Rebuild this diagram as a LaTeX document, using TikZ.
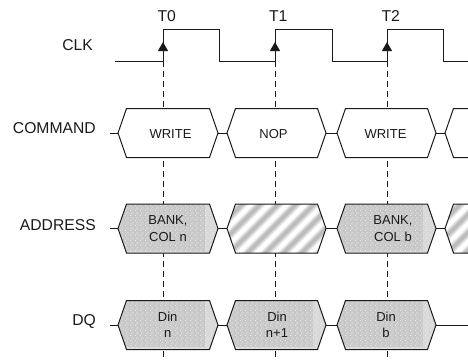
\documentclass[tikz,border=0pt]{standalone}
\usepackage{fontspec}
\setmainfont{Liberation Sans}
\usetikzlibrary{arrows.meta,patterns}
\definecolor{ink}{HTML}{1A1A1A}
\definecolor{stipbase}{HTML}{C6C6C6}
\definecolor{stipband}{HTML}{D8D8D8}
\definecolor{hatchA}{HTML}{EAEAEA}
\definecolor{hatchB}{HTML}{D2D2D2}
\definecolor{hatchC}{HTML}{BCBCBC}
\pgfdeclarepatternformonly{stipA}{\pgfpointorigin}{\pgfqpoint{5pt}{5pt}}{\pgfqpoint{5pt}{5pt}}{%
  \pgfpathrectangle{\pgfqpoint{0pt}{0pt}}{\pgfqpoint{1pt}{1pt}}%
  \pgfpathrectangle{\pgfqpoint{3pt}{1pt}}{\pgfqpoint{1pt}{1pt}}%
  \pgfpathrectangle{\pgfqpoint{1pt}{2pt}}{\pgfqpoint{1pt}{1pt}}%
  \pgfpathrectangle{\pgfqpoint{4pt}{3pt}}{\pgfqpoint{1pt}{1pt}}%
  \pgfpathrectangle{\pgfqpoint{2pt}{4pt}}{\pgfqpoint{1pt}{1pt}}%
  \pgfusepath{fill}}
\tikzset{
  wire/.style={draw=ink,line width=1pt},
  guide/.style={draw=ink,line width=1pt,dash pattern=on 5.5pt off 4.5pt},
  edgemark/.style={wire,-{Triangle[width=10pt,length=9pt]}},
  outline/.style={draw=ink,line width=1pt,line join=miter},
  signame/.style={font=\fontsize{15.7pt}{18pt}\selectfont,text=ink,inner sep=0pt},
  sigleft/.style={signame,anchor=east},
  celltext/.style={font=\fontsize{13pt}{16.5pt}\selectfont,text=ink,align=center,inner sep=0pt},
}
% name, left tip, right tip, mid y, kind (0 blank, 1 stipple, 2 hatch)
\newcommand{\hexcell}[5]{%
  \def\hexpath{(#2,#4) -- (#2+8.5,#4-24.5) -- (#3-8.5,#4-24.5) -- (#3,#4) -- (#3-8.5,#4+24.5) -- (#2+8.5,#4+24.5) -- cycle}%
  \fill[white] \hexpath;
  \ifnum#5=1
    \begin{scope}
      \clip \hexpath;
      \fill[stipbase] (#2,#4-25) rectangle (#3,#4+25);
      \fill[stipband] (#3-13,#4-25) rectangle (#3,#4+25);
      \fill[stipband] (#2,#4+22) rectangle (#3,#4+25);
      \fill[pattern=stipA,pattern color=white!92!black] (#2,#4-25) rectangle (#3,#4+25);
    \end{scope}
  \fi
  \ifnum#5=2
    \begin{scope}
      \clip \hexpath;
      \foreach \k in {-1,...,8} {
        \draw[hatchA,line width=8.5pt] (#2-9+\k*18-30,#4+30) -- (#2-9+\k*18+30,#4-30);
        \draw[hatchB,line width=6pt] (#2-9+\k*18-30,#4+30) -- (#2-9+\k*18+30,#4-30);
        \draw[hatchC,line width=3.5pt] (#2-9+\k*18-30,#4+30) -- (#2-9+\k*18+30,#4-30);
      }
    \end{scope}
  \fi
  \draw[outline] \hexpath;
  \coordinate (#1-l) at (#2,#4);
  \coordinate (#1-r) at (#3,#4);
}
\begin{document}
\begin{tikzpicture}[x=1pt,y=-1pt]
\useasboundingbox (0,0) rectangle (468,360);
% clock points
\coordinate (c0) at (115,61);
\coordinate (r0l) at (163,61); \coordinate (r0m) at (163,42); \coordinate (r0h) at (163,29);
\coordinate (f0h) at (219.5,29); \coordinate (f0l) at (219.5,61);
\coordinate (r1l) at (275,61); \coordinate (r1m) at (275,42); \coordinate (r1h) at (275,29);
\coordinate (f1h) at (332,29); \coordinate (f1l) at (332,61);
\coordinate (r2l) at (387,61); \coordinate (r2m) at (387,42); \coordinate (r2h) at (387,29);
\coordinate (f2h) at (443.5,29); \coordinate (f2l) at (443.5,61);
\coordinate (cend) at (468,61);
\coordinate (g0) at (163,360); \coordinate (g1) at (275,360); \coordinate (g2) at (387,360);
% guides
\draw[guide] (r0l) -- (g0);
\draw[guide] (r1l) -- (g1);
\draw[guide] (r2l) -- (g2);
% clock
\draw[wire] (c0) -- (r0l) -- (r0h) -- (f0h) -- (f0l) -- (r1l) -- (r1h) -- (f1h) -- (f1l) -- (r2l) -- (r2h) -- (f2h) -- (f2l) -- (cend);
\draw[edgemark] (r0l) -- (r0m);
\draw[edgemark] (r1l) -- (r1m);
\draw[edgemark] (r2l) -- (r2m);
\node[signame] (t0) at (166.7,16.5) {T0};
\node[signame] (t1) at (278.3,16.5) {T1};
\node[signame] (t2) at (390.7,16.5) {T2};
% signal names
\node[sigleft] (clk) at (93,45.5) {CLK};
\node[sigleft] (cmd) at (96,128.5) {COMMAND};
\node[sigleft] (addr) at (96,225.5) {ADDRESS};
\node[sigleft] (dq) at (96,321.5) {DQ};
% free ends
\coordinate (s1) at (110,133); \coordinate (s2) at (110,228.5); \coordinate (s3) at (110,325);
\coordinate (e3) at (468,325);
% command row
\hexcell{a0}{118}{218}{133}{0}
\hexcell{a1}{227}{326}{133}{0}
\hexcell{a2}{337}{436}{133}{0}
\hexcell{a3}{445}{545}{133}{0}
% address row
\hexcell{b0}{118}{218}{228.5}{1}
\hexcell{b1}{227}{326}{228.5}{2}
\hexcell{b2}{337}{436}{228.5}{1}
\hexcell{b3}{445}{545}{228.5}{2}
% dq row
\hexcell{d0}{118}{218}{325}{1}
\hexcell{d1}{227}{326}{325}{1}
\hexcell{d2}{337}{436}{325}{1}
% connectors
\draw[wire] (s1) -- (a0-l) (a0-r) -- (a1-l) (a1-r) -- (a2-l) (a2-r) -- (a3-l);
\draw[wire] (s2) -- (b0-l) (b0-r) -- (b1-l) (b1-r) -- (b2-l) (b2-r) -- (b3-l);
\draw[wire] (s3) -- (d0-l) (d0-r) -- (d1-l) (d1-r) -- (d2-l) (d2-r) -- (e3);
% cell labels
\node[celltext] (la0) at (170.5,134) {WRITE};
\node[celltext] (la1) at (273.5,134) {NOP};
\node[celltext] (la2) at (385.5,134) {WRITE};
\node[celltext] (lb0) at (168,228.5) {BANK,\\COL n};
\node[celltext] (lb2) at (393,228.5) {BANK,\\COL b};
\node[celltext] (ld0) at (167.7,325) {Din\\n};
\node[celltext] (ld1) at (277,325) {Din\\n+1};
\node[celltext] (ld2) at (386,325) {Din\\b};
\end{tikzpicture}
\end{document}
